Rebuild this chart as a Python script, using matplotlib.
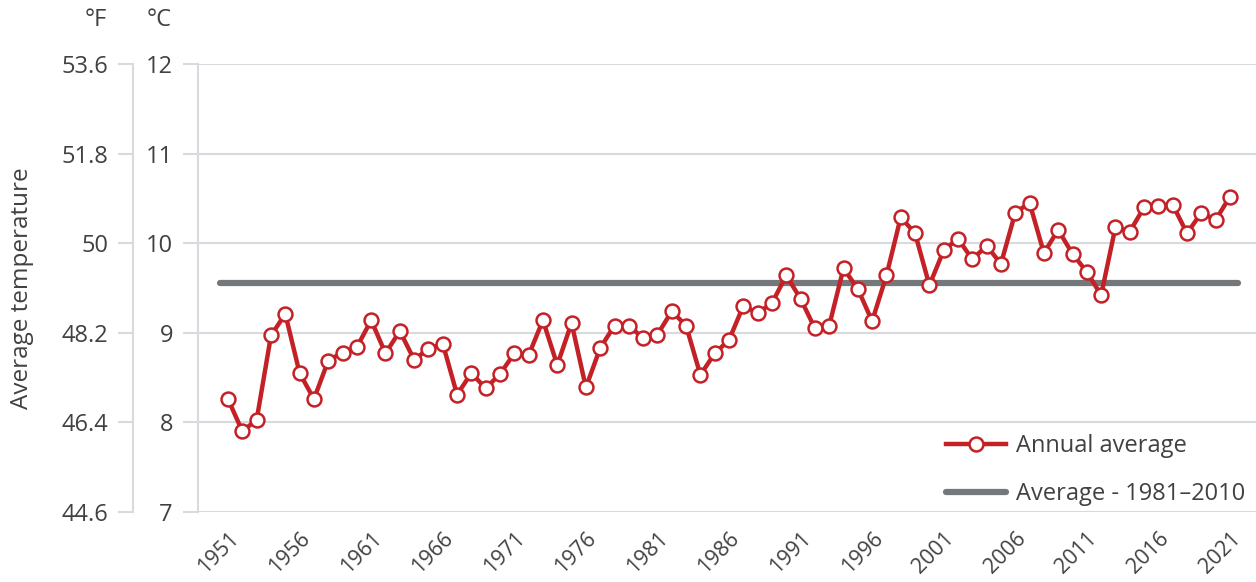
import matplotlib
matplotlib.use("Agg")
import matplotlib.pyplot as plt
from matplotlib.lines import Line2D

years = list(range(1951, 2022))
annual_avg_c = [
    8.26, 7.90, 8.03, 8.97, 9.21, 8.55, 8.26, 8.69, 8.78, 8.84,
    9.14, 8.77, 9.02, 8.70, 8.82, 8.88, 8.31, 8.55, 8.38, 8.54,
    8.77, 8.75, 9.14, 8.64, 9.11, 8.39, 8.83, 9.08, 9.08, 8.94,
    8.98, 9.24, 9.08, 8.53, 8.77, 8.92, 9.30, 9.22, 9.33, 9.64,
    9.38, 9.05, 9.08, 9.72, 9.49, 9.13, 9.64, 10.29, 10.11, 9.53,
    9.92, 10.05, 9.82, 9.97, 9.77, 10.34, 10.45, 9.89, 10.15, 9.88,
    9.68, 9.42, 10.18, 10.13, 10.40, 10.42, 10.43, 10.11, 10.34, 10.26,
    10.52,
]
baseline_c = 9.555
c_ticks = [7, 8, 9, 10, 11, 12]
f_ticks = [44.6, 46.4, 48.2, 50, 51.8, 53.6]
f_tick_labels = ["44.6", "46.4", "48.2", "50", "51.8", "53.6"]
x_tick_years = list(range(1951, 2022, 5))

RED = "#c42127"
GRAY = "#75787b"
GRID = "#d9dae0"
TEXT = "#414042"

plt.rcParams["font.family"] = ["Open Sans", "DejaVu Sans"]

W, H = 1256, 582
fig = plt.figure(figsize=(W / 100, H / 100), dpi=100)
L, R, T, B = 198, 1256, 64, 512
ax = fig.add_axes([L / W, (H - B) / H, (R - L) / W, (B - T) / H])

ax.set_xlim(1948.9, 2022.82)
ax.set_ylim(7, 12)
ax.set_yticks(c_ticks)
ax.set_yticklabels([str(v) for v in c_ticks])
ax.grid(axis="y", color=GRID, linewidth=1.5)
ax.set_axisbelow(True)
for s in ["top", "right", "bottom"]:
    ax.spines[s].set_visible(False)
ax.spines["left"].set_color(GRID)
ax.spines["left"].set_linewidth(1.5)
ax.tick_params(axis="y", length=11, width=1.5, color=GRID, labelsize=17,
               labelcolor=TEXT, pad=7)
ax.set_xticks(x_tick_years)
ax.set_xticklabels([str(y) for y in x_tick_years], rotation=45, ha="right",
                   va="top", rotation_mode="anchor")
ax.tick_params(axis="x", length=0, labelsize=15.5, labelcolor=TEXT, pad=11.5)

# baseline
ax.hlines(baseline_c, 1950.45, 2021.55, color=GRAY, linewidth=4.5,
          capstyle="round", zorder=2)
# annual series
ax.plot(years, annual_avg_c, color=RED, linewidth=3.2, marker="o",
        markersize=10, markerfacecolor="white", markeredgecolor=RED,
        markeredgewidth=1.8, zorder=3, clip_on=False)

# Fahrenheit axis
sec = ax.secondary_yaxis(-65 / (R - L),
                         functions=(lambda c: c * 9 / 5 + 32,
                                    lambda f: (f - 32) * 5 / 9))
sec.set_yticks(f_ticks)
sec.set_yticklabels(f_tick_labels)
sec.spines["left"].set_color(GRID)
sec.spines["left"].set_linewidth(1.5)
sec.tick_params(axis="y", length=11, width=1.5, color=GRID, labelsize=17,
                labelcolor=TEXT, pad=7)

fig.text(107 / W, 1 - 20 / H, "°F", ha="right", va="center", fontsize=17,
         color=TEXT)
fig.text(172 / W, 1 - 20 / H, "°C", ha="right", va="center", fontsize=17,
         color=TEXT)
fig.text(22 / W, 1 - 288 / H, "Average temperature", rotation=90,
         ha="center", va="center", fontsize=17.5, color=TEXT)

handles = [
    Line2D([], [], color=RED, linewidth=3.2, marker="o", markersize=10,
           markerfacecolor="white", markeredgecolor=RED, markeredgewidth=1.8),
    Line2D([], [], color=GRAY, linewidth=4.5, solid_capstyle="round"),
]
leg = fig.legend(handles, ["Annual average", "Average - 1981–2010"],
                 loc="upper left", bbox_to_anchor=(946 / W, 1 - 434 / H),
                 bbox_transform=fig.transFigure, frameon=False,
                 fontsize=17, labelcolor=TEXT, handlelength=2.55,
                 handletextpad=0.42, labelspacing=1.02, borderaxespad=0,
                 borderpad=0)

fig.savefig("out.png", dpi=100)
